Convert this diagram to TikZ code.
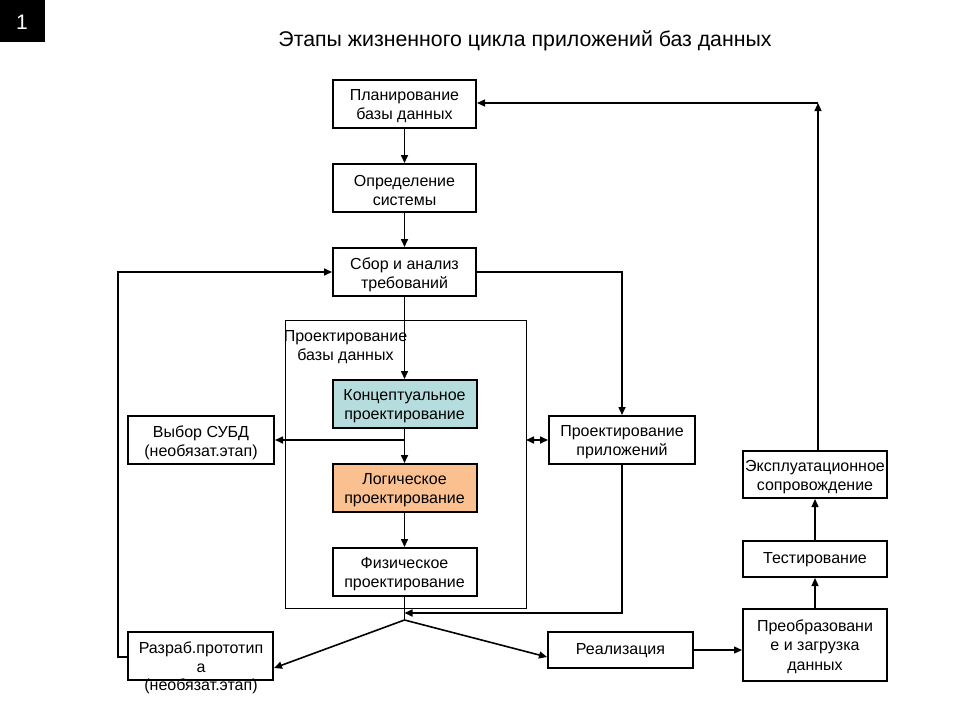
\documentclass[tikz,border=0pt]{standalone}
\usepackage{fontspec}
\setmainfont{Liberation Sans}
\usetikzlibrary{arrows.meta}
\definecolor{tealfill}{RGB}{182,221,221}
\definecolor{peachfill}{RGB}{250,192,144}
\tikzset{
  stage/.style={draw=black, line width=2pt, fill=white, inner sep=0pt},
  stagetext/.style={font=\fontsize{16}{19}\selectfont, align=center, inner sep=0pt, yshift=-2.5pt},
  conn/.style={line width=1.6pt, -{Triangle[length=8pt,width=7pt]}},
  thinconn/.style={line width=1.2pt, -{Triangle[length=8pt,width=7pt]}},
  plainline/.style={line width=1.6pt},
  frame/.style={draw=black, line width=1pt},
}
\begin{document}
\begin{tikzpicture}[x=1pt,y=-1pt]
\useasboundingbox (0,0) rectangle (960,720);
% badge
\fill[black] (0,0) rectangle (45,42);
\node[text=white, font=\fontsize{21}{24}\selectfont] (badge) at (22,22) {1};
% title
\node[font=\fontsize{21.3}{25}\selectfont] (title) at (525,41) {Этапы жизненного цикла приложений баз данных};
% container
\draw[frame] (285,320) rectangle (526,608);
\coordinate (contR) at (526,440);
\node[font=\fontsize{16}{19}\selectfont, align=center] (contlbl) at (345.5,347) {Проектирование\\базы данных};
% boxes
\node[stage, minimum width=143pt, minimum height=48pt, label={[stagetext]center:{Планирование\\базы данных}}] (plan) at (404.5,104) {};
\node[stage, minimum width=143pt, minimum height=48pt, label={[stagetext]center:{Определение\\системы}}] (opr) at (404.5,188) {};
\node[stage, minimum width=143pt, minimum height=48pt, label={[stagetext]center:{Сбор и анализ\\требований}}] (sbor) at (404.5,272) {};
\node[stage, fill=tealfill, minimum width=144pt, minimum height=48pt, label={[stagetext]center:{Концептуальное\\проектирование}}] (konc) at (404.5,404) {};
\node[stage, fill=peachfill, minimum width=144pt, minimum height=48pt, label={[stagetext]center:{Логическое\\проектирование}}] (log) at (404.5,488) {};
\node[stage, minimum width=144pt, minimum height=48pt, label={[stagetext]center:{Физическое\\проектирование}}] (fiz) at (404.5,572) {};
\node[stage, minimum width=146pt, minimum height=48pt, label={[stagetext]center:{Выбор СУБД\\(необязат.этап)}}] (vybor) at (201,440) {};
\node[stage, minimum width=146pt, minimum height=48pt, label={[stagetext]center:{Проектирование\\приложений}}] (prapp) at (622,440) {};
\node[stage, minimum width=145pt, minimum height=48pt] (razrab) at (200.5,656) {};
\node[font=\fontsize{16}{18.5}\selectfont, align=center] (razrabtxt) at (201,668) {Разраб.прототип\\а\\(необязат.этап)};
\node[stage, minimum width=145pt, minimum height=36pt, label={[stagetext, yshift=1.5pt]center:{Реализация}}] (real) at (620.5,650) {};
\node[stage, minimum width=144pt, minimum height=72pt, label={[stagetext, font=\fontsize{16}{19.5}\selectfont, yshift=1pt]center:{Преобразовани\\е и загрузка\\данных}}] (preob) at (815,645) {};
\node[stage, minimum width=144pt, minimum height=36pt, label={[stagetext, yshift=1.5pt]center:{Тестирование}}] (test) at (815,559) {};
\node[stage, minimum width=144pt, minimum height=47pt, label={[stagetext]center:{Эксплуатационное\\сопровождение}}] (expl) at (815,474.5) {};
% helper coordinates
\coordinate (j) at (404.5,620);
\coordinate (jr) at (404.5,613);
\coordinate (br) at (404.5,440);
\coordinate (topR) at (818,103);
\coordinate (loopL1) at (118,657);
\coordinate (loopL2) at (118,272);
\coordinate (sborR) at (622,272);
\coordinate (prappB) at (622,613);
% main chain
\draw[conn] (plan) -- (opr);
\draw[conn] (opr) -- (sbor);
\draw[conn] (sbor) -- (konc);
\draw[conn] (konc) -- (log);
\draw[conn] (br) -- (vybor.east);
\draw[conn] (log) -- (fiz);
\draw[plainline] (fiz) -- (j);
\draw[conn] (j) -- ([yshift=-12pt]razrab.east);
\draw[conn] (j) -- ([yshift=-7pt]real.west);
\draw[thinconn] (real.east) -- (real.east -| preob.west);
\draw[thinconn] (preob) -- (test);
\draw[thinconn] (test) -- (expl);
\draw[thinconn] (expl.north -| topR) -- (topR);
\draw[thinconn] (topR) -- (topR -| plan.east);
% loops
\draw[conn] (razrab.west |- loopL1) -- (loopL1) -- (loopL2) -- (sbor.west);
\draw[conn] (sbor.east) -- (sborR) -- (prapp.north);
\draw[conn] (prapp.south) -- (prappB) -- (jr);
\draw[line width=1.6pt, {Triangle[length=8pt,width=7pt]}-{Triangle[length=8pt,width=7pt]}] (contR) -- (prapp.west);
\end{tikzpicture}
\end{document}
